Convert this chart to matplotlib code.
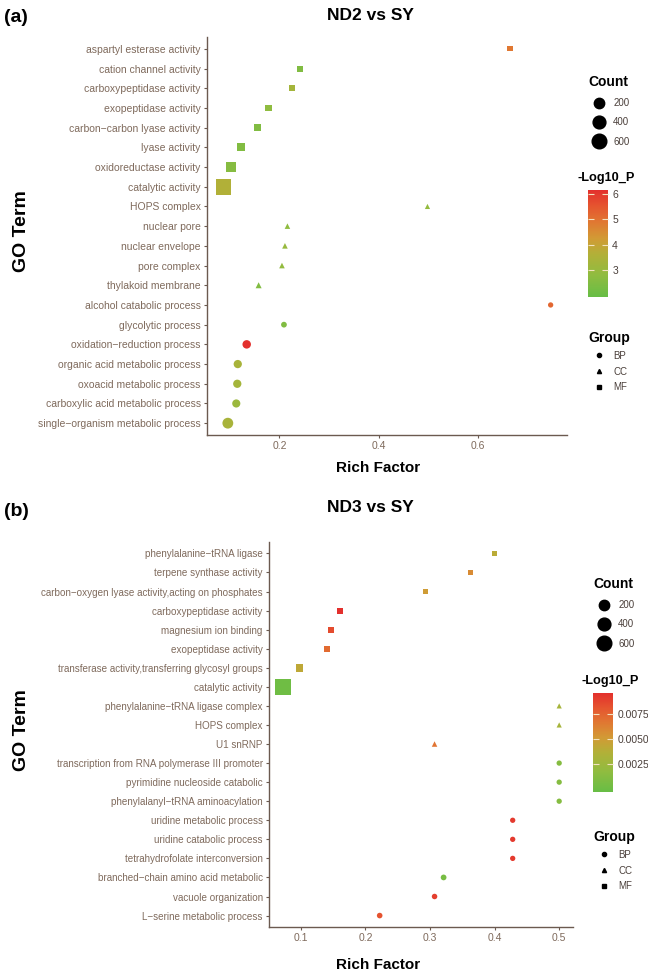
import numpy as np
import matplotlib
matplotlib.use("Agg")
import matplotlib.pyplot as plt
from matplotlib.colors import LinearSegmentedColormap, Normalize
from matplotlib.cm import ScalarMappable
from matplotlib.lines import Line2D

plt.rcParams['font.family'] = ['Liberation Sans', 'DejaVu Sans']

# ---- panel (a): ND2 vs SY, terms listed top to bottom
terms_a = ["aspartyl esterase activity", "cation channel activity", "carboxypeptidase activity",
           "exopeptidase activity", "carbon\u2212carbon lyase activity", "lyase activity",
           "oxidoreductase activity", "catalytic activity", "HOPS complex", "nuclear pore",
           "nuclear envelope", "pore complex", "thylakoid membrane", "alcohol catabolic process",
           "glycolytic process", "oxidation\u2212reduction process", "organic acid metabolic process",
           "oxoacid metabolic process", "carboxylic acid metabolic process",
           "single\u2212organism metabolic process"]
group_a = ["MF"] * 8 + ["CC"] * 5 + ["BP"] * 7
rich_a = [0.664, 0.241, 0.225, 0.178, 0.156, 0.122, 0.102, 0.087, 0.498, 0.216,
          0.211, 0.205, 0.158, 0.746, 0.209, 0.134, 0.116, 0.115, 0.113, 0.096]
count_a = [3, 12, 6, 30, 30, 60, 200, 720, 2, 5, 6, 6, 12, 3, 8, 90, 80, 80, 75, 230]
logp_a = [4.9, 2.5, 3.3, 2.8, 2.5, 2.5, 2.6, 3.6, 2.9, 2.8,
          3.0, 2.9, 2.5, 5.2, 2.5, 6.16, 3.4, 3.3, 3.1, 3.4]
clim_a = (1.95, 6.16)
cticks_a = [3, 4, 5, 6]
xticks_a = [0.2, 0.4, 0.6]

# ---- panel (b): ND3 vs SY
terms_b = ["phenylalanine\u2212tRNA ligase", "terpene synthase activity",
           "carbon\u2212oxygen lyase activity,acting on phosphates", "carboxypeptidase activity",
           "magnesium ion binding", "exopeptidase activity",
           "transferase activity,transferring glycosyl groups", "catalytic activity",
           "phenylalanine\u2212tRNA ligase complex", "HOPS complex", "U1 snRNP",
           "transcription from RNA polymerase III promoter", "pyrimidine nucleoside catabolic",
           "phenylalanyl\u2212tRNA aminoacylation", "uridine metabolic process",
           "uridine catabolic process", "tetrahydrofolate interconversion",
           "branched\u2212chain amino acid metabolic", "vacuole organization",
           "L\u2212serine metabolic process"]
group_b = ["MF"] * 8 + ["CC"] * 3 + ["BP"] * 9
rich_b = [0.400, 0.363, 0.293, 0.160, 0.146, 0.140, 0.098, 0.072, 0.500, 0.500,
          0.307, 0.500, 0.500, 0.500, 0.428, 0.428, 0.428, 0.321, 0.307, 0.222]
count_b = [3, 4, 8, 10, 12, 20, 60, 700, 2, 2, 5, 3, 3, 3, 3, 3, 3, 8, 5, 6]
logp_b = [0.0040, 0.0058, 0.0050, 0.0096, 0.0085, 0.0072, 0.0042, 0.0001, 0.0030, 0.0030,
          0.0068, 0.0012, 0.0012, 0.0012, 0.0092, 0.0092, 0.0092, 0.0005, 0.0090, 0.0082]
clim_b = (-0.0003, 0.0096)
cticks_b = [0.0025, 0.0050, 0.0075]
xticks_b = [0.1, 0.2, 0.3, 0.4, 0.5]

size_breaks = [200, 400, 600]
groups = ["BP", "CC", "MF"]
shapes = {"BP": "o", "CC": "^", "MF": "s"}

cmap = LinearSegmentedColormap.from_list(
    "gr", [(0, "#67bd45"), (0.2, "#8fbc40"), (0.4, "#b2b038"), (0.55, "#d29a35"),
           (0.7, "#e07832"), (0.85, "#e5552f"), (1, "#e3302d")])

W, H = 648, 977
TICK_C = "#7f6a5c"
SPINE_C = "#6b5a50"
LEG_C = "#4a3f3a"


def msize(count):
    # marker diameter in points (ggplot-like sqrt area scale)
    px = 4.6 + 0.41 * np.sqrt(np.asarray(count, dtype=float))
    return px * 72 / 100


def fx(px):
    return px / W


def fy(px):
    return 1 - px / H


def panel(fig, box, terms, group, rich, count, logp, clim, xticks, cticks,
          title, tag, label_fs, leg_x, leg_y0, bar, grp_y, ylab_y, xlab_y):
    l, t, r, b = box
    ax = fig.add_axes([fx(l), fy(b), fx(r) - fx(l), (b - t) / H])
    n = len(terms)
    ypos = np.arange(n)[::-1]
    norm = Normalize(*clim)
    rich = np.array(rich)
    count = np.array(count)
    logp = np.array(logp)
    for g in groups:
        m = np.array([gg == g for gg in group])
        ax.scatter(rich[m], ypos[m], s=msize(count[m]) ** 2, c=logp[m], cmap=cmap, norm=norm,
                   marker=shapes[g], linewidths=0, zorder=3)
    ax.set_yticks(ypos)
    ax.set_yticklabels(terms, fontsize=label_fs, color=TICK_C)
    ax.set_ylim(-0.6, n - 0.4)
    span = rich.max() - rich.min()
    ax.set_xlim(rich.min() - 0.05 * span, rich.max() + 0.05 * span)
    ax.set_xticks(xticks)
    ax.set_xticklabels([f"{v:g}" for v in xticks], fontsize=7.5, color=TICK_C)
    for s in ["top", "right"]:
        ax.spines[s].set_visible(False)
    for s in ["left", "bottom"]:
        ax.spines[s].set_color(SPINE_C)
        ax.spines[s].set_linewidth(1.0)
    ax.tick_params(color=SPINE_C, length=2.5, width=0.8, pad=2)

    fig.text(fx(370), fy(title[1]), title[0], ha="center", va="center",
             fontsize=12.5, fontweight="bold")
    fig.text(fx(4), fy(tag[1]), tag[0], ha="left", va="center", fontsize=14, fontweight="bold")
    fig.text(fx(22), fy(ylab_y), "GO Term", rotation=90, ha="center", va="center",
             fontsize=14, fontweight="bold")
    fig.text(fx(378), fy(xlab_y), "Rich Factor", ha="center", va="center",
             fontsize=11, fontweight="bold")

    # size legend
    h_size = [Line2D([], [], ls="", marker="o", color="black", ms=msize(v)) for v in size_breaks]
    leg1 = fig.legend(h_size, [str(v) for v in size_breaks], title="Count", loc="upper left",
                      bbox_to_anchor=(fx(leg_x), fy(leg_y0)), frameon=False, fontsize=7,
                      labelspacing=0.95, handletextpad=0.5, handlelength=2.0,
                      borderpad=0, labelcolor=LEG_C,
                      title_fontproperties={"weight": "bold", "size": 10})
    leg1._legend_box.align = "left"

    # colour bar
    bt, bb = bar
    cax = fig.add_axes([fx(leg_x + 4), fy(bb), fx(20), (bb - bt) / H])
    cb = fig.colorbar(ScalarMappable(norm=norm, cmap=cmap), cax=cax, ticks=cticks)
    cb.outline.set_visible(False)
    if cticks[0] < 1:
        cb.ax.set_yticklabels([f"{v:.4f}" for v in cticks])
    cax.tick_params(direction="in", left=True, right=True, color="#f3e3c0", length=4,
                    width=0.8, labelsize=7.5, labelcolor=LEG_C, pad=3)
    fig.text(fx(leg_x - 7), fy(bt - 12), "-Log10_P", ha="left", va="center",
             fontsize=9.2, fontweight="bold")

    # group legend
    h_grp = [Line2D([], [], ls="", marker=shapes[g], color="black", ms=3) for g in groups]
    leg2 = fig.legend(h_grp, groups, title="Group", loc="upper left",
                      bbox_to_anchor=(fx(leg_x), fy(grp_y)), frameon=False, fontsize=7,
                      labelspacing=0.6, handletextpad=0.5, handlelength=2.0, borderpad=0,
                      labelcolor=LEG_C, title_fontproperties={"weight": "bold", "size": 10})
    leg2._legend_box.align = "left"
    return ax


fig = plt.figure(figsize=(W / 100, H / 100), dpi=100)

panel(fig, (207, 37, 567, 435), terms_a, group_a, rich_a, count_a, logp_a, clim_a,
      xticks_a, cticks_a, ("ND2 vs SY", 15), ("(a)", 17), 7.45, 584, 70, (190, 297), 326,
      231, 468)
panel(fig, (269, 542, 573, 927), terms_b, group_b, rich_b, count_b, logp_b, clim_b,
      xticks_b, cticks_b, ("ND3 vs SY", 508), ("(b)", 511), 7.1, 589, 572, (693, 792), 825,
      730, 965)

fig.savefig("out.png", dpi=100)
